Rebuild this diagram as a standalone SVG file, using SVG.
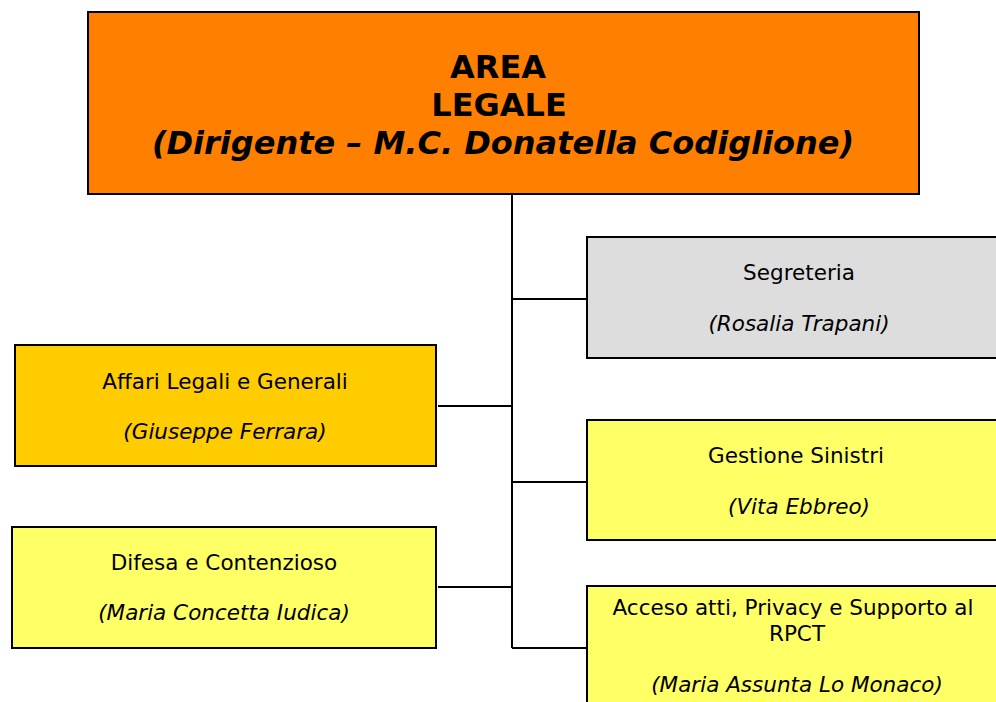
<svg xmlns="http://www.w3.org/2000/svg" width="996" height="702" viewBox="0 0 996 702">
<style>
.box{stroke:#000;stroke-width:2}
.t{font-family:"DejaVu Sans","Verdana",sans-serif;font-size:21.5px;fill:#000;text-anchor:middle}
.i{font-style:italic}
.h{font-family:"DejaVu Sans","Verdana",sans-serif;font-size:32px;font-weight:bold;fill:#000;text-anchor:middle}
.c{stroke:#000;stroke-width:2;fill:none}
</style>
<rect width="996" height="702" fill="#fff"/>
<g id="connectors">
<path class="c" d="M512 194V648"/>
<path class="c" d="M512 299H587"/>
<path class="c" d="M438 406H512"/>
<path class="c" d="M512 482H587"/>
<path class="c" d="M438 587H512"/>
<path class="c" d="M512 648H587"/>
</g>
<g id="area-legale">
<rect class="box" x="88" y="12" width="831" height="182" fill="#FF8000"/>
<text class="h" x="498" y="78">AREA</text>
<text class="h" x="499" y="116">LEGALE</text>
<text class="h i" x="503" y="154">(Dirigente – M.C. Donatella Codiglione)</text>
</g>
<g id="segreteria">
<rect class="box" x="587" y="237" width="424" height="121" fill="#DDDDDD"/>
<text class="t" x="799" y="280">Segreteria</text>
<text class="t i" x="799" y="331">(Rosalia Trapani)</text>
</g>
<g id="affari">
<rect class="box" x="15" y="345" width="421" height="121" fill="#FFCC00"/>
<text class="t" x="225" y="389">Affari Legali e Generali</text>
<text class="t i" x="225" y="439">(Giuseppe Ferrara)</text>
</g>
<g id="gestione">
<rect class="box" x="587" y="420" width="424" height="120" fill="#FFFF66"/>
<text class="t" x="796" y="463">Gestione Sinistri</text>
<text class="t i" x="799" y="514">(Vita Ebbreo)</text>
</g>
<g id="difesa">
<rect class="box" x="12" y="527" width="424" height="121" fill="#FFFF66"/>
<text class="t" x="224" y="570">Difesa e Contenzioso</text>
<text class="t i" x="224" y="620">(Maria Concetta Iudica)</text>
</g>
<g id="acceso">
<rect class="box" x="587" y="586" width="424" height="140" fill="#FFFF66"/>
<text class="t" x="793" y="615">Acceso atti, Privacy e Supporto al</text>
<text class="t" x="797" y="641">RPCT</text>
<text class="t i" x="797" y="692">(Maria Assunta Lo Monaco)</text>
</g>
</svg>
